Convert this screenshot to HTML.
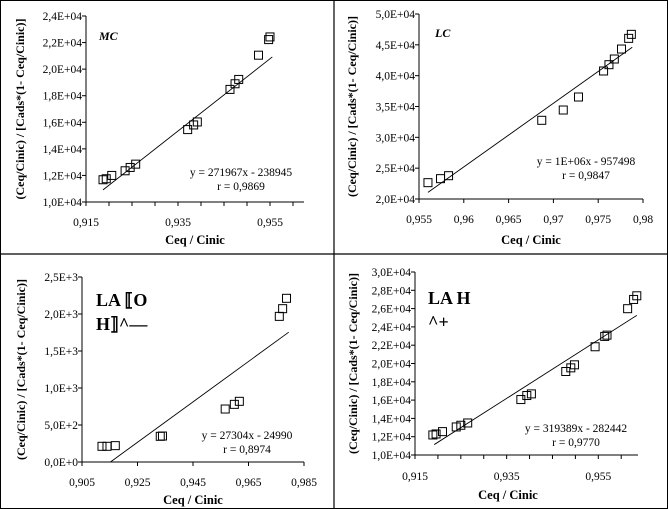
<!DOCTYPE html>
<html><head><meta charset="utf-8">
<style>
html,body{margin:0;padding:0;background:#fff;}
svg{display:block;font-family:"Liberation Serif","Times New Roman",serif;}
svg text{font-family:"Liberation Serif","Times New Roman",serif;}
</style></head>
<body>
<svg id="fig" width="668" height="509" viewBox="0 0 668 509">
<rect x="0.5" y="0.5" width="667" height="508" fill="#fff" stroke="#000"/>
<line x1="334" y1="0" x2="334" y2="509" stroke="#000" stroke-width="1.2"/>
<line x1="0" y1="254" x2="668" y2="254" stroke="#000" stroke-width="1.2"/>
</svg>
<script>
// ---- MC chart data ----
const mcX = [0.9187,0.9194,0.9206,0.9235,0.9246,0.9258,0.9371,0.9384,0.9392,0.9463,0.9474,0.9482,0.9525,0.9547,0.9550];
const mcY = [11675,11750,12000,12350,12600,12850,15450,15800,16025,18475,18900,19225,21050,22225,22425];
const mcFit = [0.9187,0.9555];
const mcSlope = [271967,-238945];
const mcYTicks = ["1,0E+04","1,2E+04","1,4E+04","1,6E+04","1,8E+04","2,0E+04","2,2E+04","2,4E+04"];
const mcXTicks = ["0,915","0,935","0,955"];
// ---- LC chart data ----
const lcX = [0.9560,0.9574,0.9583,0.9687,0.9711,0.9728,0.9756,0.9762,0.9768,0.9776,0.9784,0.9787];
const lcY = [22650,23300,23780,32760,34430,36540,40760,41780,42700,44320,46050,46700];
const lcLine = [0.9560,21080,0.9788,44600];
const lcYTicks = ["2,0E+04","2,5E+04","3,0E+04","3,5E+04","4,0E+04","4,5E+04","5,0E+04"];
const lcXTicks = ["0,955","0,96","0,965","0,97","0,975","0,98"];
// ---- LA OH chart data ----
const ohX = [0.9122,0.9140,0.9170,0.9332,0.9340,0.9566,0.9599,0.9617,0.9761,0.9773,0.9787];
const ohY = [212,212,221,347,351,716,779,820,1968,2072,2212];
const ohFit = [0.91525,0.9795];
const ohSlope = [27304,-24990];
const ohYTicks = ["0,0E+0","5,0E+2","1,0E+3","1,5E+3","2,0E+3","2,5E+3"];
const ohXTicks = ["0,905","0,925","0,945","0,965","0,985"];
// ---- LA H chart data ----
const hX = [0.9189,0.9196,0.9210,0.9240,0.9250,0.9265,0.9381,0.9394,0.9404,0.9479,0.9490,0.9498,0.9543,0.9564,0.9569,0.9614,0.9627,0.9634];
const hY = [12190,12300,12555,13066,13250,13500,16060,16500,16680,19125,19525,19855,21830,22960,23100,25990,27000,27400];
const hFit = [0.9192,0.9634];
const hSlope = [319389,-282442];
const hYTicks = ["1,0E+04","1,2E+04","1,4E+04","1,6E+04","1,8E+04","2,0E+04","2,2E+04","2,4E+04","2,6E+04","2,8E+04","3,0E+04"];
const hXTicks = ["0,915","0,935","0,955"];

const NS="http://www.w3.org/2000/svg";
const FF='"Liberation Serif","Times New Roman",serif';
const svg=document.getElementById('fig');
function mk(tag,attrs,parent){const e=document.createElementNS(NS,tag);for(const k in attrs)e.setAttribute(k,attrs[k]);if(tag==='text')e.setAttribute('font-family',FF);(parent||svg).appendChild(e);return e;}

function chart(c){
  const g=mk('g',{});
  
  
  const sx=v=>c.L+(v-c.xmin)/(c.xmax-c.xmin)*(c.R-c.L);
  const sy=v=>c.B-(v-c.ymin)/(c.ymax-c.ymin)*(c.B-c.T);
  const ya=mk('line',{x1:c.L,y1:c.T,x2:c.L,y2:c.B,stroke:'#000','stroke-width':1},g);
  
  
  const xa=mk('line',{x1:c.L,y1:c.B,x2:c.R,y2:c.B,stroke:'#000','stroke-width':1},g);
  
  
  const ny=c.yTicks.length;
  c.yTicks.forEach((t,i)=>{
    const v=c.ymin+(c.ymax-c.ymin)*i/(ny-1), y=sy(v);
    mk('line',{x1:c.L-4,y1:y,x2:c.L,y2:y,stroke:'#000'},g);
    const tx=mk('text',{x:c.L-4,y:y+4,'text-anchor':'end','font-size':11.5},g);
    tx.textContent=t;
    
    
  });
  c.xTicks.forEach((t,i)=>{
    const v=c.xmin+c.xstep*i, x=sx(v);
    const tx=mk('text',{x:x,y:c.xlabY,'text-anchor':'middle','font-size':11.5},g);
    tx.textContent=t;
    
    
  });
  for(let v=c.xmin;v<=c.xmax+1e-9;v+=c.minor){
    const x=sx(v);
    mk('line',{x1:x,y1:c.B,x2:x,y2:c.B+4,stroke:'#000'},g);
  }
  const ln=mk('line',{x1:sx(c.line[0]),y1:sy(c.line[1]),x2:sx(c.line[2]),y2:sy(c.line[3]),stroke:'#000','stroke-width':0.9},g);
  
  
  c.xs.forEach((xv,i)=>{
    const r=mk('rect',{x:sx(xv)-4,y:sy(c.ys[i])-4,width:8,height:8,fill:'none',stroke:'#000','stroke-width':1},g);
    
    
  });
  const xt=mk('text',{x:c.xtX,y:c.xtY,'text-anchor':'middle','font-size':12.5,'font-weight':'700'},g);
  xt.textContent='Ceq / Cinic';
  
  
  const cy=(c.T+c.B)/2;
  const yt=mk('text',{x:c.ytX,y:cy,'text-anchor':'middle','font-size':12,'font-weight':'700',transform:`rotate(-90 ${c.ytX} ${cy})`},g);
  yt.textContent='(Ceq/Cinic) / [Cads*(1- Ceq/Cinic)]';
  
  
  c.eq.forEach((s,i)=>{
    const t=mk('text',{x:c.eqX,y:c.eqY+i*14,'text-anchor':'middle','font-size':11.5},g);
    t.textContent=s;
    
    
  });
  c.title.forEach((s,i)=>{
    const t=mk('text',{x:c.tX,y:c.tY+i*c.tGap,'font-size':c.tSize,'font-weight':'700','font-style':c.tStyle},g);
    t.textContent=s;
    
    
  });
}
function fitLine(f,s){return [f[0],s[0]*f[0]+s[1],f[1],s[0]*f[1]+s[1]];}

chart({name:'mc-chart',L:86,R:304,T:16,B:202,xmin:0.915,xmax:0.915+0.02*218/92,xstep:0.02,minor:0.005,ymin:10000,ymax:24000,
  xs:mcX,ys:mcY,line:fitLine(mcFit,mcSlope),yTicks:mcYTicks,xTicks:mcXTicks,xlabY:226,xtX:195,xtY:244,ytX:24,
  eq:["y = 271967x - 238945","r = 0,9869"],eqX:241,eqY:176,title:["MC"],tX:99,tY:40,tGap:0,tSize:12,tStyle:'italic'});
chart({name:'lc-chart',L:419,R:643,T:14,B:199,xmin:0.955,xmax:0.98,xstep:0.005,minor:0.005,ymin:20000,ymax:50000,
  xs:lcX,ys:lcY,line:lcLine,yTicks:lcYTicks,xTicks:lcXTicks,xlabY:223,xtX:531,xtY:244,ytX:356,
  eq:["y = 1E+06x - 957498","r = 0,9847"],eqX:586,eqY:165,title:["LC"],tX:435,tY:37,tGap:0,tSize:12,tStyle:'italic'});
chart({name:'la-oh-chart',L:82,R:304,T:277,B:462,xmin:0.905,xmax:0.985,xstep:0.02,minor:0.02,ymin:0,ymax:2500,
  xs:ohX,ys:ohY,line:fitLine(ohFit,ohSlope),yTicks:ohYTicks,xTicks:ohXTicks,xlabY:486,xtX:193,xtY:504,ytX:25,
  eq:["y = 27304x - 24990","r = 0,8974"],eqX:247,eqY:439,title:["LA \u27E6O","H\u27E7^\u2014"],tX:96,tY:306,tGap:24,tSize:18,tStyle:'normal'});
chart({name:'la-h-chart',L:415,R:638,T:272,B:455,xmin:0.915,xmax:0.915+0.04*(223/183.3),xstep:0.02,minor:0.005,ymin:10000,ymax:30000,
  xs:hX,ys:hY,line:fitLine(hFit,hSlope),yTicks:hYTicks,xTicks:hXTicks,xlabY:480,xtX:508,xtY:499,ytX:357,
  eq:["y = 319389x - 282442","r = 0,9770"],eqX:576,eqY:432,title:["LA H","^+"],tX:428,tY:304,tGap:24,tSize:18,tStyle:'normal'});
</script>
</body></html>
